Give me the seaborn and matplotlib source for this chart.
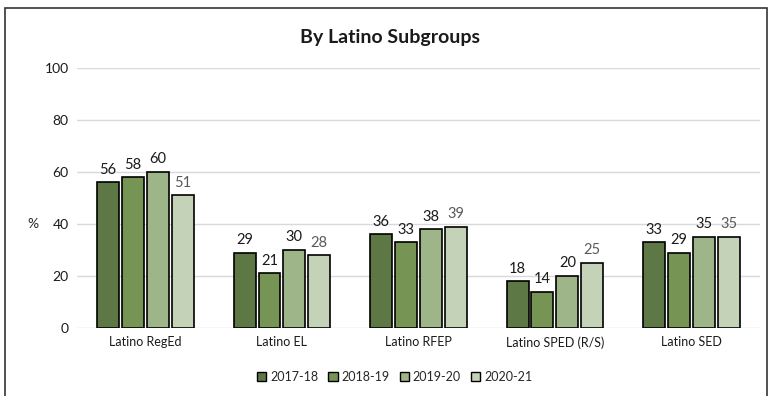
import pandas as pd
import seaborn as sns
import matplotlib.pyplot as plt
from matplotlib.patches import Rectangle

# Values
groups = ["Latino RegEd", "Latino EL", "Latino RFEP", "Latino SPED (R/S)", "Latino SED"]
years = ["2017-18", "2018-19", "2019-20", "2020-21"]
y2017 = [56, 29, 36, 18, 33]
y2018 = [58, 21, 33, 14, 29]
y2019 = [60, 30, 38, 20, 35]
y2020 = [51, 28, 39, 25, 35]
colors = ["#5e803c", "#76a04a", "#9dbd80", "#c4d7b4"]
label_colors = ["#1a1a1a", "#1a1a1a", "#1a1a1a", "#595959"]

rows = []
for yr, vals in zip(years, [y2017, y2018, y2019, y2020]):
    for g, v in zip(groups, vals):
        rows.append({"group": g, "year": yr, "value": v})
df = pd.DataFrame(rows)

sns.set_style("white")
plt.rcParams["font.family"] = ["Lato", "DejaVu Sans"]

fig = plt.figure(figsize=(7.72, 3.96), dpi=100)
ax = fig.add_axes([0.10, 0.172, 0.884, 0.656])

sns.barplot(data=df, x="group", y="value", hue="year", palette=colors,
            width=0.73, gap=0.12, edgecolor="black", linewidth=1.2,
            ax=ax, legend=True)

for cont, lc in zip(ax.containers, label_colors):
    ax.bar_label(cont, fmt="%d", padding=4, fontsize=10.5, color=lc)

ax.set_ylim(0, 100)
ax.set_yticks(range(0, 101, 20))
ax.yaxis.grid(True, color="#d9d9d9", linewidth=1)
ax.set_axisbelow(True)
for s in ax.spines.values():
    s.set_visible(False)
ax.tick_params(axis="both", length=0, colors="#1a1a1a")
ax.tick_params(axis="x", labelsize=9, pad=6)
ax.tick_params(axis="y", labelsize=10, pad=6)
ax.set_xlabel("")
ax.set_ylabel("%", rotation=0, fontsize=10, va="center", ha="center")
ax.yaxis.set_label_coords(-0.065, 0.40)
ax.set_xlim(-0.5, 4.5)

fig.text(0.505, 0.905, "By Latino Subgroups", ha="center", va="center",
         fontsize=14, fontweight="bold", color="#1a1a1a")

leg = ax.legend(loc="center", bbox_to_anchor=(0.465, -0.19), ncol=4,
                frameon=False, fontsize=9, handlelength=0.75, handleheight=0.75,
                handletextpad=0.3, columnspacing=0.8)
for h in leg.legend_handles:
    h.set_edgecolor("black")
    h.set_linewidth(1)

# outer frame (bottom edge falls outside the picture)
fig.patches.append(Rectangle((0.007, -0.1), 0.986, 1.08, transform=fig.transFigure,
                             fill=False, edgecolor="#333333", linewidth=1.2))

fig.savefig("out.png", dpi=100)
